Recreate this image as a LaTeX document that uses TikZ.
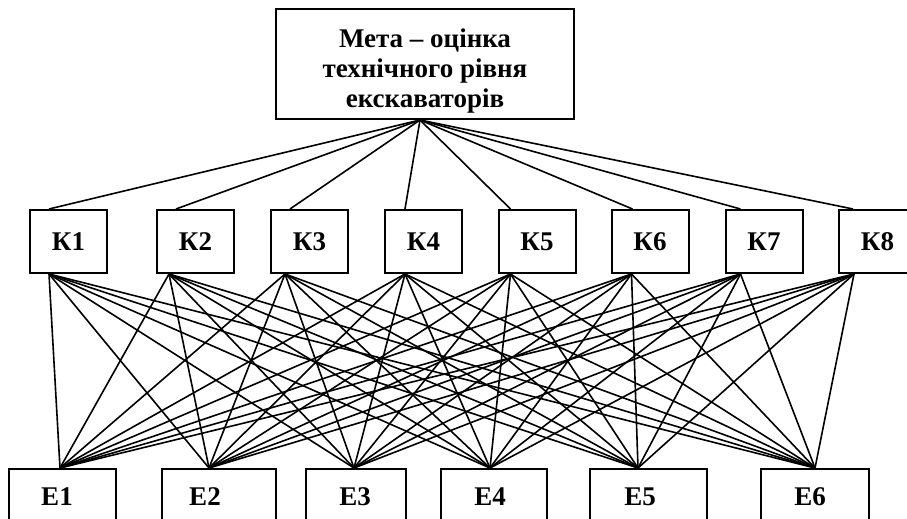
\documentclass[tikz,border=0pt]{standalone}
\usepackage{fontspec}
\setmainfont{Liberation Serif}
\begin{document}
\begin{tikzpicture}[x=1pt,y=-1pt,
  boxstyle/.style={draw, line width=2pt, inner sep=0pt},
  kbox/.style={boxstyle, minimum width=77pt, minimum height=63pt,
    font=\fontsize{27}{30}\bfseries\selectfont},
  ebox/.style={boxstyle, minimum height=62pt},
  lbl/.style={inner sep=0pt, font=\fontsize{27}{30}\bfseries\selectfont},
  link/.style={line width=1.6pt}]
\useasboundingbox (0,0) rectangle (907,519);
\clip (0,0) rectangle (907,519);

% goal
\node[boxstyle, minimum width=298pt, minimum height=110pt] (goal) at (425,64) {};
\node[lbl, align=center] (goaltext) at (425,71)
  {Мета – оцінка\\технічного рівня\\екскаваторів};

% criteria
\node[kbox] (K1) at (68.5,241.5) {К1};
\node[kbox] (K2) at (195.5,241.5) {К2};
\node[kbox] (K3) at (309.5,241.5) {К3};
\node[kbox] (K4) at (423.5,241.5) {К4};
\node[kbox] (K5) at (537,241.5) {К5};
\node[kbox] (K6) at (650,241.5) {К6};
\node[kbox] (K7) at (764,241.5) {К7};
\node[kbox] (K8) at (877.5,241.5) {К8};

% alternatives
\node[ebox, minimum width=107pt] (E1) at (62.5,500) {};
\node[ebox, minimum width=114pt] (E2) at (219,500) {};
\node[ebox, minimum width=100pt] (E3) at (356,500) {};
\node[ebox, minimum width=106pt] (E4) at (494,500) {};
\node[ebox, minimum width=117pt] (E5) at (648.5,500) {};
\node[ebox, minimum width=108pt] (E6) at (815,500) {};
\node[lbl] (E1t) at (57,497) {Е1};
\node[lbl] (E2t) at (205,497) {Е2};
\node[lbl] (E3t) at (355,497) {Е3};
\node[lbl] (E4t) at (490,497) {Е4};
\node[lbl] (E5t) at (640,497) {Е5};
\node[lbl] (E6t) at (810,497) {Е6};

% goal to criteria
\foreach \k/\ko in {1/20,2/20,3/20,4/21,5/13,6/22,7/16,8/15}
  \draw[link] ([xshift=-5pt]goal.south) -- ([xshift=\ko pt]K\k.north west);

% criteria to alternatives
\foreach \k/\ko in {1/20,2/13,3/15,4/21,5/13,6/21,7/16,8/16}
  \foreach \e/\eo in {1/52,2/48,3/49,4/50,5/49,6/55}
    \draw[link] ([xshift=\ko pt]K\k.south west) -- ([xshift=\eo pt]E\e.north west);
\end{tikzpicture}
\end{document}
